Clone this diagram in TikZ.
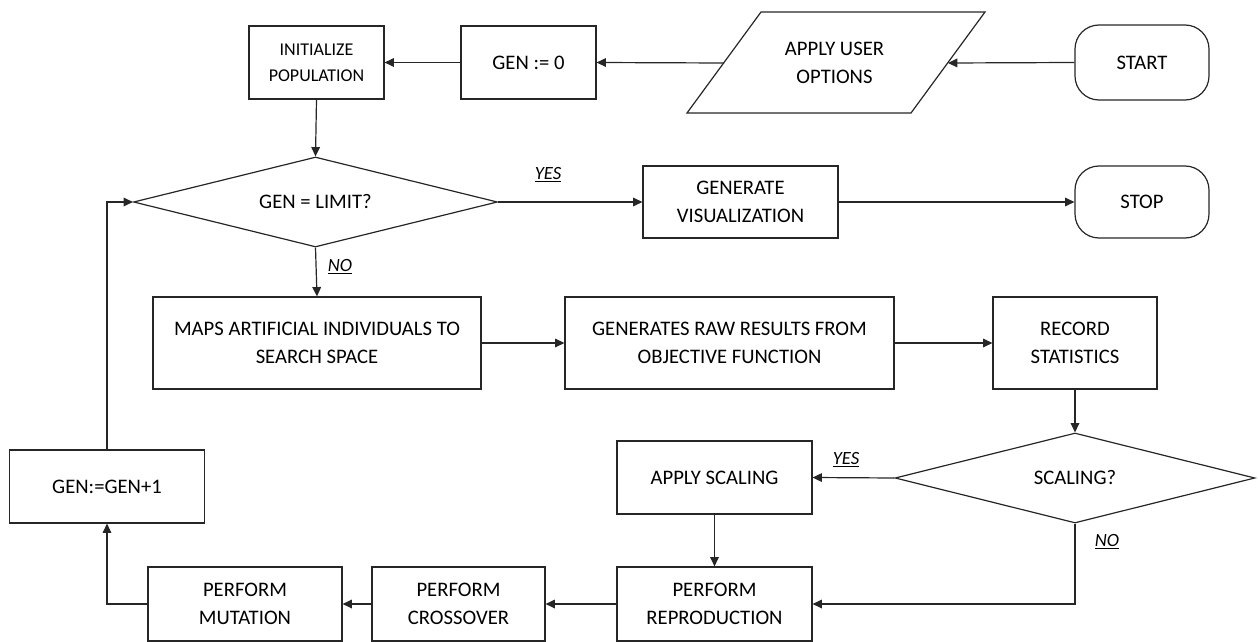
\documentclass[tikz,border=0pt]{standalone}
\usepackage{fontspec}
\setmainfont{Carlito}
\usetikzlibrary{shapes.geometric,arrows.meta}
\newcommand{\pxu}{0.75pt}
\newcommand{\lbl}[1]{\underline{\textit{#1}}}
\begin{document}
\begin{tikzpicture}[x=0.75pt,y=-0.75pt,
  line width=0.9pt, draw=black!85,
  box/.style={draw, rectangle, align=center, inner sep=0pt,
    font=\fontsize{15.5}{21}\selectfont},
  term/.style={box, rounded corners=18pt},
  decide/.style={draw, diamond, aspect=4, inner sep=0pt,
    font=\fontsize{15.5}{21}\selectfont},
  flow/.style={-{Triangle[length=7pt,width=6.5pt]}},
  tag/.style={font=\fontsize{14}{16}\selectfont, inner sep=0pt}]
\path[use as bounding box] (0,0) rectangle (1258,642);

% top row
\node[term, minimum width=134*\pxu, minimum height=75*\pxu] (start) at (1142,62.5) {START};
\node[box, font=\fontsize{13.5}{19.5}\selectfont, minimum width=135*\pxu, minimum height=73*\pxu] (init) at (316.5,62.5) {INITIALIZE\\POPULATION};
\node[box, minimum width=135*\pxu, minimum height=73*\pxu] (gen0) at (528.5,62.5) {GEN := 0};

% input/output parallelogram for the user options
\draw (761,12) -- (985,12) -- (911,113) -- (687,113) -- cycle;
\node[align=center, font=\fontsize{15.5}{21}\selectfont, inner sep=0pt] (opts) at (834.5,62.5) {APPLY USER\\OPTIONS};
\coordinate (optsR) at (948,63);
\coordinate (optsL) at (724,63);

% generation test
\node[decide, minimum width=364*\pxu, minimum height=90*\pxu] (d1) at (315.5,202) {GEN = LIMIT?};
\node[box, minimum width=195*\pxu, minimum height=72*\pxu] (vis) at (740.5,202) {GENERATE\\VISUALIZATION};
\node[term, minimum width=134*\pxu, minimum height=72*\pxu] (stop) at (1142,202) {STOP};

% evaluation row
\node[box, minimum width=328*\pxu, minimum height=92*\pxu] (maps) at (317,343) {MAPS ARTIFICIAL INDIVIDUALS TO\\SEARCH SPACE};
\node[box, minimum width=329*\pxu, minimum height=92*\pxu] (raw) at (729.5,343) {GENERATES RAW RESULTS FROM\\OBJECTIVE FUNCTION};
\node[box, minimum width=164*\pxu, minimum height=92*\pxu] (rec) at (1075,343) {RECORD\\STATISTICS};

% scaling decision
\node[decide, minimum width=360*\pxu, minimum height=90*\pxu] (d2) at (1075,478) {SCALING?};
\node[box, minimum width=195*\pxu, minimum height=73*\pxu] (scale) at (714.5,477.5) {APPLY SCALING};

% genetic operators
\node[box, minimum width=195*\pxu, minimum height=74*\pxu] (repro) at (714.5,604) {PERFORM\\REPRODUCTION};
\node[box, minimum width=173*\pxu, minimum height=74*\pxu] (cross) at (458.5,604) {PERFORM\\CROSSOVER};
\node[box, minimum width=194*\pxu, minimum height=74*\pxu] (mut) at (245,604) {PERFORM\\MUTATION};
\node[box, minimum width=195*\pxu, minimum height=73*\pxu] (inc) at (107,486.5) {GEN:=GEN+1};

% connectors
\draw[flow] (start.west) -- (optsR);
\draw[flow] (optsL) -- (gen0.east);
\draw[flow] (gen0.west) -- (init.east);
\draw[flow] (init.south) -- (d1.north);
\draw[flow] (d1.east) -- (vis.west);
\draw[flow] (vis.east) -- (stop.west);
\draw[flow] (d1.south) -- (maps.north);
\draw[flow] (maps.east) -- (raw.west);
\draw[flow] (raw.east) -- (rec.west);
\draw[flow] (rec.south) -- (d2.north);
\draw[flow] (d2.west) -- (scale.east);
\draw[flow] (scale.south) -- (repro.north);
\draw[flow] (d2.south) |- (repro.east);
\draw[flow] (repro.west) -- (cross.east);
\draw[flow] (cross.west) -- (mut.east);
\draw[flow] (mut.west) -| (inc.south);
\draw[flow] (inc.north) |- (d1.west);

% branch labels
\node[tag] (yes1) at (548,175) {\lbl{YES}};
\node[tag] (no1) at (340,267) {\lbl{NO}};
\node[tag] (yes2) at (846,460) {\lbl{YES}};
\node[tag] (no2) at (1107,542) {\lbl{NO}};
\end{tikzpicture}
\end{document}
